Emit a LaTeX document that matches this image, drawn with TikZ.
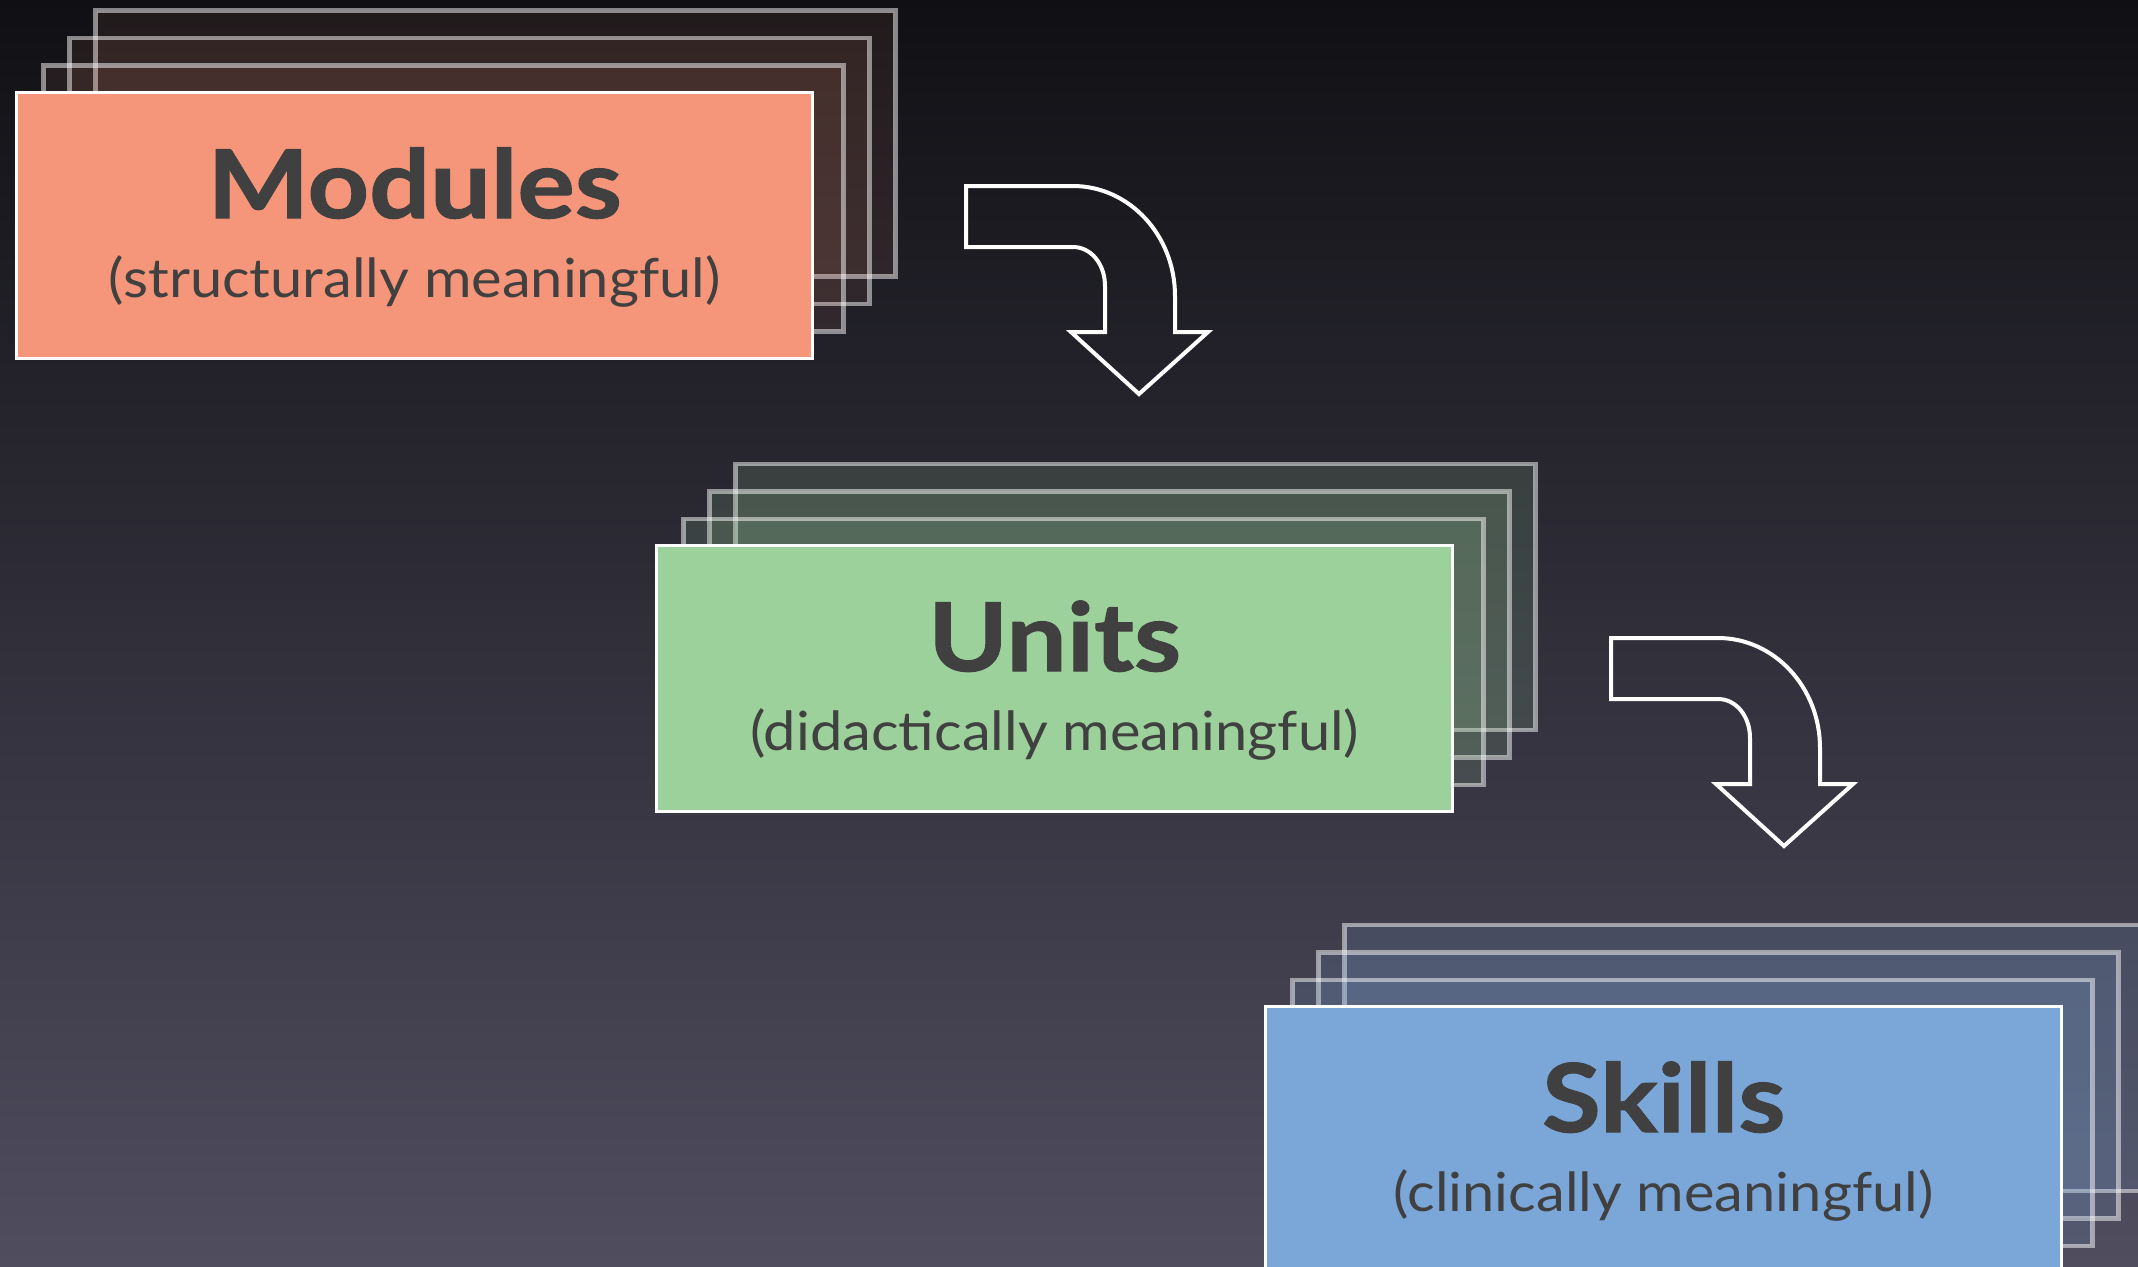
\documentclass[tikz,border=0pt]{standalone}
\usepackage{fontspec}
\setmainfont{Lato}
\newfontfamily\titlefam[FakeStretch=1.13,FakeBold=1.2]{Lato}
\newfontfamily\subfam[FakeStretch=1.07]{Lato}
\usetikzlibrary{calc}
\definecolor{txt}{RGB}{64,64,64}
\definecolor{bgtop}{RGB}{16,16,20}
\definecolor{bgbot}{RGB}{80,77,95}
\definecolor{modc}{RGB}{245,150,122}
\definecolor{unic}{RGB}{157,209,155}
\definecolor{skic}{RGB}{123,166,216}
\tikzset{
  backbox/.style={draw=white, draw opacity=0.5, line width=2.4pt, fill=#1,
    minimum width=400pt, minimum height=133pt, anchor=north west, inner sep=0pt},
  frontbox/.style={draw=white, line width=1.7pt, fill=#1,
    minimum width=398pt, minimum height=133pt, anchor=north west, inner sep=0pt},
  title/.style={font=\titlefam\bfseries\fontsize{47.5}{52}\selectfont, text=txt, anchor=base, inner sep=0pt},
  subtitle/.style={font=\subfam\fontsize{27}{31}\selectfont, text=txt, anchor=base, inner sep=0pt},
  arrowline/.style={draw=white, line width=2pt, line join=miter},
  bentarrow/.pic={
    \draw[arrowline] (0,0) -- (107,0) .. controls (163,0) and (209,49) .. (209,110)
      -- (209,146) -- (242,146) -- (173,208) -- (105,146) -- (139,146) -- (139,100)
      .. controls (139,78) and (125,61) .. (107,61) -- (0,61) -- cycle;
  }
}
\begin{document}
\begin{tikzpicture}[x=0.5pt, y=-0.5pt]
\useasboundingbox (0,0) rectangle (2138,1266);
\clip (0,0) rectangle (2138,1266);
\shade[top color=bgtop, bottom color=bgbot] (0,0) rectangle (2138,1266);

% Modules stack
\begin{scope}[every node/.append style={fill opacity=0.08}]
\node[backbox=modc] (m3) at (93,8) {};
\node[backbox=modc] (m2) at (67,35.5) {};
\node[backbox=modc] (m1) at (41,63) {};
\end{scope}
\node[frontbox=modc] (mod) at (15,91) {};
\node[title] (modt) at ($(mod.north)+(0,127)$) {Modules};
\node[subtitle] (mods) at ($(mod.north)+(0,206)$) {(structurally meaningful)};

% Units stack
\begin{scope}[every node/.append style={fill opacity=0.15}]
\node[backbox=unic] (u3) at (733,461.5) {};
\node[backbox=unic] (u2) at (707,489) {};
\node[backbox=unic] (u1) at (681,516.5) {};
\end{scope}
\node[frontbox=unic] (uni) at (655,544) {};
\node[title] (unit) at ($(uni.north)+(0,127)$) {Units};
\node[subtitle] (unis) at ($(uni.north)+(0,206)$) {(didactically meaningful)};

% Skills stack
\begin{scope}[every node/.append style={fill opacity=0.15}]
\node[backbox=skic] (s3) at (1342,922.5) {};
\node[backbox=skic] (s2) at (1316,950) {};
\node[backbox=skic] (s1) at (1290,977.5) {};
\end{scope}
\node[frontbox=skic] (ski) at (1264,1005) {};
\node[title] (skit) at ($(ski.north)+(0,127)$) {Skills};
\node[subtitle] (skis) at ($(ski.north)+(0,206)$) {(clinically meaningful)};

% Arrows
\pic at (966,186) {bentarrow};
\pic at (1611,638) {bentarrow};
\end{tikzpicture}
\end{document}
